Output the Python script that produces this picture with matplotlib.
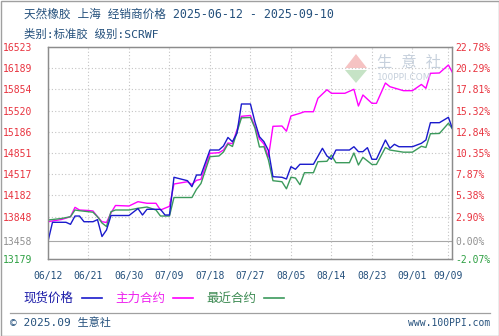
import matplotlib
matplotlib.use("agg")
import matplotlib.pyplot as plt
from matplotlib.lines import Line2D
from matplotlib.patches import Rectangle, Polygon

# days counted from 2025-06-12
spot_days = [0, 1, 4, 5, 6, 7, 8, 10, 11, 12, 13, 14, 18, 20, 21, 22, 25, 26, 27, 28,
             31, 32, 33, 34, 36, 38, 39, 40, 41, 42, 43, 45, 46, 47, 48, 49, 50, 52, 53,
             54, 55, 56, 59, 61, 62, 63, 64, 67, 68, 69, 70, 71, 72, 73, 75, 76, 77, 78,
             81, 83, 84, 85, 87, 89, 90]
spot_price = [13458, 13758, 13758, 13726, 13857, 13857, 13767, 13767, 13800, 13534, 13636,
              13865, 13865, 13975, 13873, 13963, 13963, 13873, 13873, 14468,
              14414, 14319, 14504, 14504, 14898, 14898, 14961, 15096, 15029, 15162, 15624,
              15624, 15340, 15108, 15030, 14890, 14477, 14468, 14441,
              14635, 14594, 14673, 14673, 14925, 14804, 14752, 14898, 14898, 14950, 14872,
              14872, 14935, 14752, 14752, 15056, 14925, 14988, 14950,
              14950, 15004, 15056, 15329, 15329, 15414, 15214]

main_days = [0, 3, 5, 6, 7, 9, 10, 11, 12, 13, 14, 15, 18, 20, 22, 24, 25, 27, 28, 31,
             32, 33, 34, 36, 38, 39, 40, 41, 43, 45, 46, 47, 48, 49, 50, 52, 53, 54, 56,
             57, 59, 60, 62, 63, 66, 68, 69, 70, 72, 73, 75, 76, 79, 81, 83, 84, 85, 87,
             89, 90]
main_price = [13767, 13802, 13846, 13994, 13952, 13944, 13936, 13846, 13767, 13755, 13905,
              14023, 14015, 14083, 14058, 14058, 13952, 14010, 14362, 14398,
              14354, 14420, 14436, 14846, 14856, 14898, 15009, 14998, 15430, 15443, 15266,
              15072, 14993, 14788, 15272, 15277, 15195, 15435, 15477,
              15502, 15502, 15714, 15849, 15793, 15793, 15856, 15592, 15766, 15635, 15635,
              15955, 15897, 15834, 15834, 15932, 15872, 16108, 16113,
              16239, 16108]

near_days = [0, 3, 5, 6, 7, 10, 11, 12, 13, 14, 15, 18, 20, 22, 24, 25, 27, 28, 32, 33,
             34, 36, 38, 39, 40, 41, 43, 45, 46, 47, 48, 49, 50, 52, 53, 54, 55, 56, 57,
             59, 60, 62, 63, 64, 67, 68, 69, 70, 72, 73, 75, 76, 79, 81, 83, 84, 85, 87,
             89, 90]
near_price = [13794, 13818, 13846, 13952, 13941, 13917, 13846, 13747, 13692, 13925, 13952,
              13952, 13979, 13999, 13952, 13857, 13857, 14149, 14149, 14278,
              14370, 14793, 14804, 14867, 14993, 14954, 15406, 15411, 15245, 14946, 14950,
              14741, 14414, 14398, 14286, 14469, 14457, 14351, 14540,
              14540, 14714, 14720, 14819, 14698, 14698, 14851, 14662, 14783, 14670, 14670,
              14938, 14898, 14864, 14864, 14957, 14938, 15155, 15159,
              15320, 15222]

x_tick_days = [0, 9, 18, 27, 36, 45, 54, 63, 72, 81, 89]
x_tick_labels = ['06/12', '06/21', '06/30', '07/09', '07/18', '07/27',
                 '08/05', '08/14', '08/23', '09/01', '09/09']
y_ticks = [16523, 16189, 15854, 15520, 15186, 14851, 14517, 14182, 13848, 13458, 13179]
pct_labels = ['22.78%', '20.29%', '17.81%', '15.32%', '12.84%', '10.35%',
              '7.87%', '5.38%', '2.90%', '0.00%', '-2.07%']
base_price = 13458

RED = '#e8333f'
GREY = '#909090'
GREEN_T = '#2ea043'
TXT = '#24507c'
CJK = ['DejaVu Sans Mono', 'Noto Sans CJK SC']

fig = plt.figure(figsize=(4.99, 3.36), dpi=100)
fig.patch.set_facecolor('white')
ax = fig.add_axes([48 / 499, 1 - 259 / 336, 404 / 499, 212 / 336])
ax.set_xlim(0, 89.8)
ax.set_ylim(13179, 16523)

# grid
for v in y_ticks:
    if v in (13179, 16523):
        continue
    if v == base_price:
        ax.axhline(v, color='#a8a8a8', lw=0.8, zorder=1)
    else:
        ax.axhline(v, color='#c4c4c4', lw=0.8, ls=(0, (1, 2)), zorder=1)
for d in x_tick_days[1:]:
    ax.axvline(d, color='#c4c4c4', lw=0.8, ls=(0, (1, 2)), zorder=1)

ax.plot(main_days, main_price, color='#ff00ff', lw=1.0, zorder=3)
ax.plot(near_days, near_price, color='#3c9a5c', lw=1.0, zorder=4)
ax.plot(spot_days, spot_price, color='#1a1acc', lw=1.0, zorder=5)

for s in ax.spines.values():
    s.set_color('#8c8c8c')
    s.set_linewidth(0.9)

ax.set_xticks(x_tick_days)
ax.set_xticklabels(x_tick_labels, fontfamily='DejaVu Sans Mono', fontsize=7, color=TXT)
ax.tick_params(axis='x', length=0, pad=9)

ax.set_yticks(y_ticks)
ax.set_yticklabels([str(v) for v in y_ticks], fontfamily='DejaVu Sans Mono', fontsize=7)
ax.tick_params(axis='y', length=0, pad=11)

ax2 = ax.twinx()
ax2.set_ylim(13179, 16523)
ax2.set_yticks(y_ticks)
ax2.set_yticklabels(pct_labels, fontfamily='DejaVu Sans Mono', fontsize=7)
ax2.tick_params(axis='y', length=0, pad=2.5)
for s in ax2.spines.values():
    s.set_color('#8c8c8c')
    s.set_linewidth(0.9)

for labs in (ax.get_yticklabels(), ax2.get_yticklabels()):
    for i, t in enumerate(labs):
        t.set_color(GREY if i == 9 else (GREEN_T if i == 10 else RED))

# header
fig.text(24 / 499, 1 - 14 / 336, '天然橡胶 上海 经销商价格 2025-06-12 - 2025-09-10',
         family=CJK, fontsize=8.4, color=TXT, va='center')
fig.text(24 / 499, 1 - 34 / 336, '类别:标准胶 级别:SCRWF',
         family=CJK, fontsize=8.2, color=TXT, va='center')

# watermark
fig.patches.append(Polygon([[345 / 499, 1 - 68 / 336], [356 / 499, 1 - 54 / 336],
                            [367 / 499, 1 - 68 / 336]], closed=True,
                           transform=fig.transFigure, fc='#f4b4b4', ec='none', alpha=0.8))
fig.patches.append(Polygon([[345 / 499, 1 - 70 / 336], [356 / 499, 1 - 83 / 336],
                            [367 / 499, 1 - 70 / 336]], closed=True,
                           transform=fig.transFigure, fc='#b8dcb8', ec='none', alpha=0.8))
fig.text(377 / 499, 1 - 62 / 336, '生 意 社', family=CJK, fontsize=11,
         color='#c6d0dc', va='center')
fig.text(377 / 499, 1 - 77 / 336, '100PPI.COM', family='DejaVu Sans', fontsize=6.5,
         color='#c6d0dc', va='center')

# legend
leg_y = 1 - 298 / 336
items = [('现货价格', '#1a1aa8', '#1a1acc', 23, 82),
         ('主力合约', '#ee22ee', '#ff00ff', 115, 173),
         ('最近合约', '#3c8a52', '#3c9a5c', 206, 264)]
for name, tc, lc, tx, lx in items:
    fig.text(tx / 499, leg_y, name, family=CJK, fontsize=9, color=tc, va='center')
    fig.lines.append(Line2D([lx / 499, (lx + 20) / 499], [leg_y, leg_y],
                            transform=fig.transFigure, color=lc, lw=1.2))

# footer
fig.lines.append(Line2D([10 / 499, 490 / 499], [1 - 313 / 336, 1 - 313 / 336],
                        transform=fig.transFigure, color='#a0a0a0', lw=0.9))
fig.text(10 / 499, 1 - 323 / 336, '© 2025.09 生意社', family=CJK, fontsize=8,
         color=TXT, va='center')
fig.text(490 / 499, 1 - 323 / 336, 'www.100PPI.com', family='DejaVu Sans Mono',
         fontsize=7, color=TXT, va='center', ha='right')

fig.patches.append(Rectangle((0.5 / 499, 0.5 / 336), 498 / 499, 335 / 336,
                             transform=fig.transFigure, fill=False, ec='#a0a0a0', lw=1))

fig.savefig('out.png', dpi=100)
